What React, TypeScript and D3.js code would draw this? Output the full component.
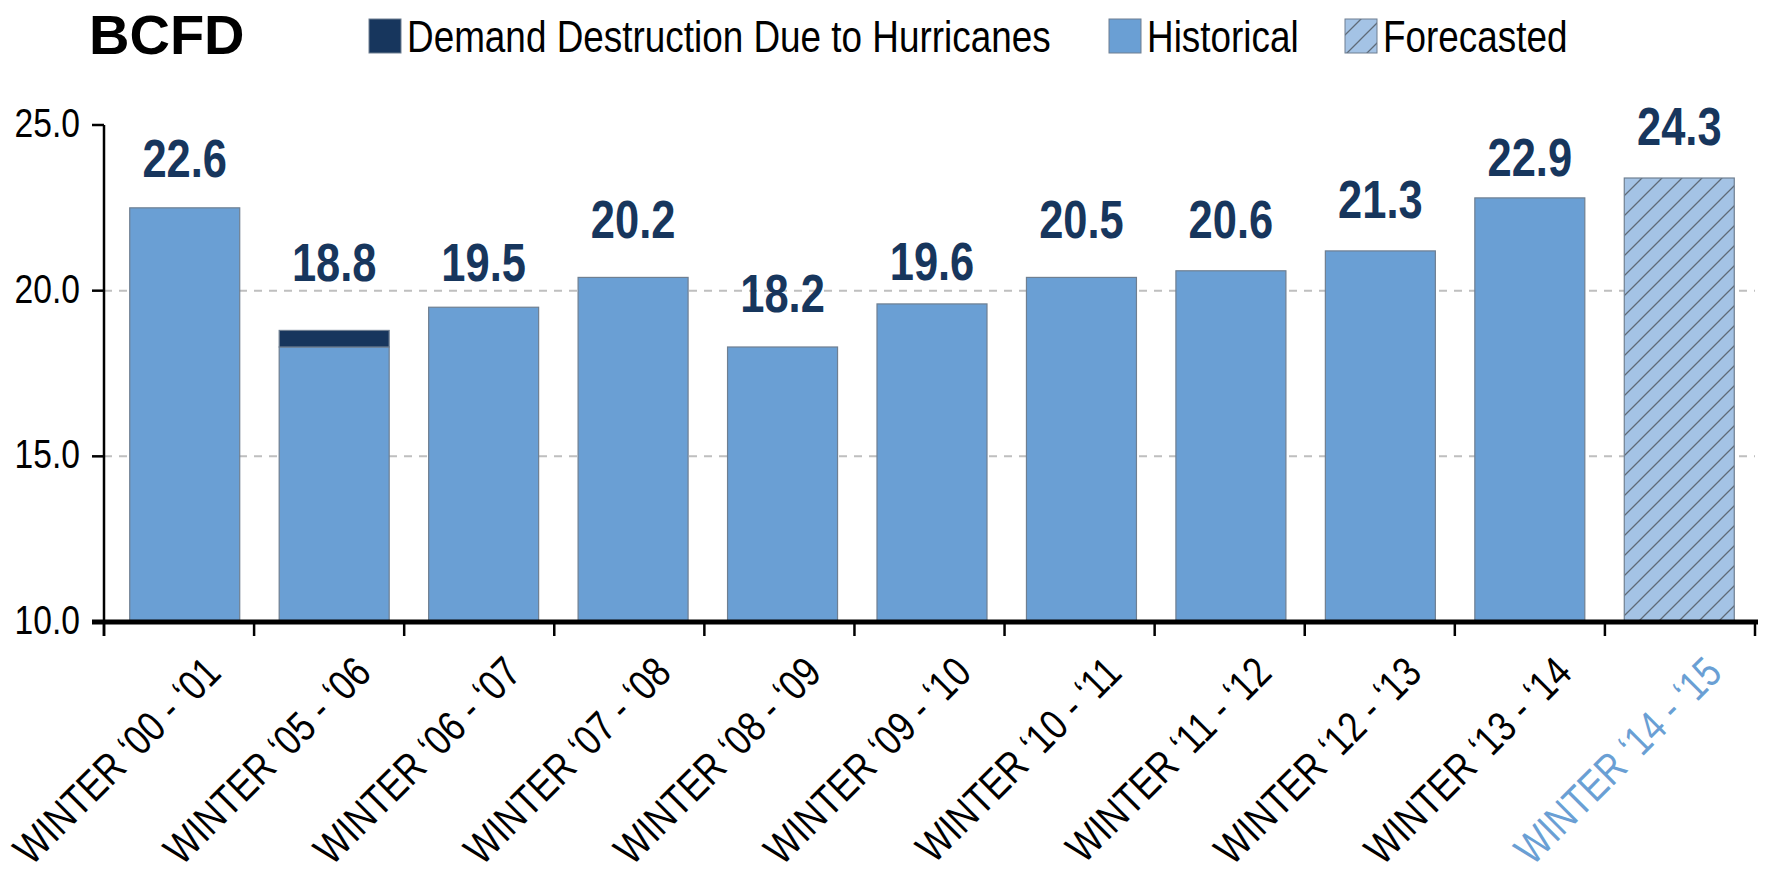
import { useEffect, useRef } from 'react'
import * as d3 from 'd3'

const categories = [
  'WINTER ‘00 - ‘01',
  'WINTER ‘05 - ‘06',
  'WINTER ‘06 - ‘07',
  'WINTER ‘07 - ‘08',
  'WINTER ‘08 - ‘09',
  'WINTER ‘09 - ‘10',
  'WINTER ‘10 - ‘11',
  'WINTER ‘11 - ‘12',
  'WINTER ‘12 - ‘13',
  'WINTER ‘13 - ‘14',
  'WINTER ‘14 - ‘15',
]

// bar heights as drawn in the picture
const historical: (number | null)[] = [22.5, 18.3, 19.5, 20.4, 18.3, 19.6, 20.4, 20.6, 21.2, 22.8, null]
const demandDestruction = [0, 0.5, 0, 0, 0, 0, 0, 0, 0, 0, 0]
const forecasted: (number | null)[] = [null, null, null, null, null, null, null, null, null, null, 23.4]

// printed labels and the level (in BCFD) their baseline sits at
const valueLabels = ['22.6', '18.8', '19.5', '20.2', '18.2', '19.6', '20.5', '20.6', '21.3', '22.9', '24.3']
const labelLevels = [23.44, 20.3, 20.3, 21.6, 19.37, 20.33, 21.6, 21.6, 22.2, 23.47, 24.4]

const yTicks = [10, 15, 20, 25]
const gridTicks = [15, 20]

const FONT = "'Liberation Sans', Arial, sans-serif"
const SQUEEZE = 0.82 // Arial Narrow look
const BAR = '#6a9fd4'
const DARK = '#17365d'
const EDGE = '#6f7f91'

type G = d3.Selection<SVGSVGElement, unknown, null, undefined>

// condensed text: Liberation Sans squeezed horizontally
function narrowText(svg: G, x: number, y: number, txt: string, size: number, opts: { anchor?: string; weight?: string; fill?: string; rotate?: number } = {}) {
  return svg.append('text')
    .attr('transform', `translate(${x},${y}) rotate(${opts.rotate ?? 0}) scale(${SQUEEZE},1)`)
    .attr('text-anchor', opts.anchor ?? 'start')
    .attr('font-family', FONT)
    .attr('font-weight', opts.weight ?? 'normal')
    .attr('font-size', size)
    .attr('fill', opts.fill ?? '#000')
    .text(txt)
}

export default function App() {
  const svgRef = useRef<SVGSVGElement>(null)

  useEffect(() => {
    if (!svgRef.current) return
    const width = 1766
    const height = 880

    const svg = d3.select(svgRef.current) as G
    svg.selectAll('*').remove()
    svg.attr('width', width).attr('height', height)

    const y = d3.scaleLinear().domain([10, 25]).range([622, 125])
    const xAxisScale = d3.scaleBand<string>().domain(categories).range([104, 1755])
    const x = d3.scaleBand<string>().domain(categories).range([110, 1754]).paddingInner(0.264).paddingOuter(0.132)
    const bw = x.bandwidth()

    const defs = svg.append('defs')
    const hatch = defs.append('pattern').attr('id', 'hatch')
      .attr('patternUnits', 'userSpaceOnUse').attr('width', 20).attr('height', 20)
    hatch.append('rect').attr('width', 20).attr('height', 20).attr('fill', '#a4c3e5')
    hatch.append('path').attr('d', 'M-5,5 L5,-5 M0,20 L20,0 M15,25 L25,15')
      .attr('stroke', '#5f6b78').attr('stroke-width', 1.3)

    // Title
    svg.append('text').attr('x', 89).attr('y', 54)
      .attr('font-family', FONT).attr('font-weight', 'bold').attr('font-size', 56)
      .attr('fill', '#000').text('BCFD')

    // Legend
    const legendItems = [
      { label: 'Demand Destruction Due to Hurricanes', x: 369, fill: DARK },
      { label: 'Historical', x: 1109, fill: BAR },
      { label: 'Forecasted', x: 1345, fill: 'url(#hatch)' },
    ]
    legendItems.forEach(it => {
      svg.append('rect').attr('x', it.x).attr('y', 19).attr('width', 32).attr('height', 34)
        .attr('fill', it.fill).attr('stroke', EDGE).attr('stroke-width', 1)
      narrowText(svg, it.x + 38, 52, it.label, 45)
    })

    // Grid lines
    gridTicks.forEach(v => {
      svg.append('line').attr('x1', 104).attr('x2', 1755).attr('y1', y(v)).attr('y2', y(v))
        .attr('stroke', '#bfbfbf').attr('stroke-width', 2).attr('stroke-dasharray', '8,7')
    })

    // Historical bars (+ hurricane demand destruction stacked on top)
    categories.forEach((c, i) => {
      const h = historical[i]
      if (h == null) return
      svg.append('rect').attr('x', x(c)!).attr('y', y(h)).attr('width', bw).attr('height', y(10) - y(h))
        .attr('fill', BAR).attr('stroke', EDGE).attr('stroke-width', 1.2)
      const d = demandDestruction[i]
      if (d > 0) {
        svg.append('rect').attr('x', x(c)!).attr('y', y(h + d)).attr('width', bw).attr('height', y(h) - y(h + d))
          .attr('fill', DARK).attr('stroke', EDGE).attr('stroke-width', 1.2)
      }
    })

    // Forecast bar
    categories.forEach((c, i) => {
      const f = forecasted[i]
      if (f == null) return
      svg.append('rect').attr('x', x(c)!).attr('y', y(f)).attr('width', bw).attr('height', y(10) - y(f))
        .attr('fill', 'url(#hatch)').attr('stroke', EDGE).attr('stroke-width', 1.2)
    })

    // Value labels
    categories.forEach((c, i) => {
      narrowText(svg, x(c)! + bw / 2, y(labelLevels[i]), valueLabels[i], 53,
        { anchor: 'middle', weight: 'bold', fill: DARK })
    })

    // Y axis
    yTicks.forEach(v => {
      svg.append('line').attr('x1', 92).attr('x2', 104).attr('y1', y(v)).attr('y2', y(v))
        .attr('stroke', '#000').attr('stroke-width', 2.5)
      narrowText(svg, 80, y(v) + 12, d3.format('.1f')(v), 41, { anchor: 'end' })
    })
    svg.append('line').attr('x1', 104).attr('x2', 104).attr('y1', y(25)).attr('y2', 636)
      .attr('stroke', '#000').attr('stroke-width', 2.5)

    // X axis
    svg.append('line').attr('x1', 92).attr('x2', 1758).attr('y1', y(10)).attr('y2', y(10))
      .attr('stroke', '#000').attr('stroke-width', 5)
    d3.range(categories.length + 1).forEach(i => {
      const bx = xAxisScale.range()[0] + i * xAxisScale.step()
      svg.append('line').attr('x1', bx).attr('x2', bx).attr('y1', y(10)).attr('y2', 636)
        .attr('stroke', '#000').attr('stroke-width', 2.5)
    })
    categories.forEach((c, i) => {
      const cx = xAxisScale(c)! + xAxisScale.bandwidth() / 2
      narrowText(svg, cx + 44, 675, c, 42.5,
        { anchor: 'end', rotate: -45, fill: i === categories.length - 1 ? BAR : '#000' })
    })
  }, [])

  return (
    <div style={{ position: 'absolute', left: 0, top: 0 }}>
      <svg ref={svgRef} />
    </div>
  )
}
